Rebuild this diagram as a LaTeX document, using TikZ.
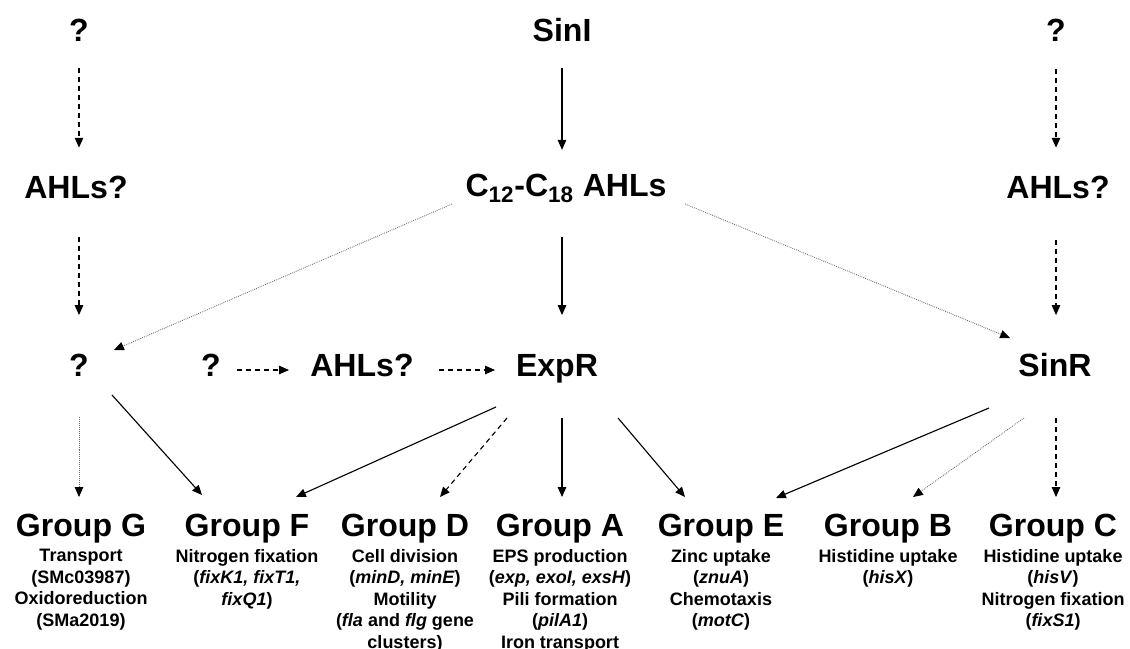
\documentclass[tikz,border=0pt]{standalone}
\usepackage{fontspec}
\setmainfont{Liberation Sans}
\usetikzlibrary{arrows.meta, positioning, calc}

\begin{document}
\begin{tikzpicture}[x=0.025cm, y=-0.025cm,
    lbl/.style={font=\bfseries\fontsize{22.8}{26}\selectfont, inner sep=0pt, text height=16.3pt, text depth=0pt},
    desc/.style={font=\bfseries\fontsize{12.8}{15.4}\selectfont, align=center, inner sep=0pt},
    arr/.style={-{Triangle[length=7pt, width=6pt]}, line width=0.8pt},
    dasharr/.style={arr, dash pattern=on 3.6pt off 2.8pt},
    dotarr/.style={-{Triangle[length=7pt, width=6pt, color=black]}, line width=0.6pt, black!60, dash pattern=on 0.6pt off 0.8pt}]
    \useasboundingbox (0,0) rectangle (1130,649);

    % primera fila
    \node[lbl] (q1) at (79,30) {?};
    \node[lbl] (sinI) at (562,30) {SinI};
    \node[lbl] (q2) at (1056,30) {?};
    % segunda fila
    \node[lbl] (ahl1) at (76,187) {AHLs?};
    \node[lbl] (c1218) at (566,185) {C\textsubscript{12}-C\textsubscript{18} AHLs};
    \node[lbl] (ahl2) at (1058,187) {AHLs?};
    % reguladores
    \node[lbl] (q3) at (79,365) {?};
    \node[lbl] (q4) at (211,365) {?};
    \node[lbl] (ahl3) at (362,365) {AHLs?};
    \node[lbl] (expR) at (557,365) {ExpR};
    \node[lbl] (sinR) at (1055,365) {SinR};

    % grupos de genes
    \foreach \g/\x in {G/81, F/247, D/405, A/560, E/721, B/888, C/1053}
        \node[lbl] (grp\g) at (\x,525) {Group \g};
    \node[desc, below=8.5pt of grpG] (txtG) {Transport\\(SMc03987)\\Oxidoreduction\\(SMa2019)};
    \node[desc, below=8.5pt of grpF] (txtF) {Nitrogen fixation\\(\textit{fixK1, fixT1,}\\\textit{fixQ1})};
    \node[desc, below=8.5pt of grpD] (txtD) {Cell division\\(\textit{minD, minE})\\Motility\\(\textit{fla} and \textit{flg} gene\\clusters)};
    \node[desc, below=8.5pt of grpA] (txtA) {EPS production\\(\textit{exp, exoI, exsH})\\Pili formation\\(\textit{pilA1})\\Iron transport};
    \node[desc, below=8.5pt of grpE] (txtE) {Zinc uptake\\(\textit{znuA})\\Chemotaxis\\(\textit{motC})};
    \node[desc, below=8.5pt of grpB] (txtB) {Histidine uptake\\(\textit{hisX})};
    \node[desc, below=8.5pt of grpC] (txtC) {Histidine uptake\\(\textit{hisV})\\Nitrogen fixation\\(\textit{fixS1})};

    % flechas verticales de arriba
    \draw[dasharr, shorten <=27pt, shorten >=28pt] (q1.center) -- (q1.center |- ahl1.center);
    \draw[arr, shorten <=27pt, shorten >=25pt] (sinI.center) -- (sinI.center |- c1218.center);
    \draw[dasharr, shorten <=28pt, shorten >=28pt] (q2.center) -- (q2.center |- ahl2.center);
    \draw[dasharr, shorten <=35.5pt, shorten >=35.5pt] (ahl1.center -| q3.center) -- (q3.center);
    \draw[arr, shorten <=37pt, shorten >=35.5pt] (sinI.center |- c1218.center) -- (sinI.center |- expR.center);
    \draw[dasharr, shorten <=37.5pt, shorten >=35.5pt] (ahl2.center -| q2.center) -- (q2.center |- sinR.center);

    % lineas punteadas desde los AHLs
    \draw[dotarr] ([shift={(-114,19)}]c1218.center) -- ([shift={(35,-15)}]q3.center);
    \draw[dotarr] ([shift={(119,19)}]c1218.center) -- ([shift={(-45,-27)}]sinR.center);

    % fila del medio
    \draw[dasharr] ([shift={(26,5)}]q4.center) -- ([shift={(-73,5)}]ahl3.center);
    \draw[dasharr] ([shift={(77,5)}]ahl3.center) -- ([shift={(-62,5)}]expR.center);

    % hacia los grupos
    \draw[dotarr] ([shift={(0,52)}]q3.center) -- ([shift={(-2,-28)}]grpG.center);
    \draw[arr] ([shift={(33,30)}]q3.center) -- ([shift={(-45,-30)}]grpF.center);
    \draw[arr] ([shift={(-61,42)}]expR.center) -- ([shift={(49,-28)}]grpF.center);
    \draw[dasharr] ([shift={(-50,53)}]expR.center) -- ([shift={(35,-28)}]grpD.center);
    \draw[arr] ([shift={(5,53)}]expR.center) -- ([shift={(2,-28)}]grpA.center);
    \draw[arr] ([shift={(61,53)}]expR.center) -- ([shift={(-36,-28)}]grpE.center);
    \draw[arr] ([shift={(-66,43)}]sinR.center) -- ([shift={(55,-27)}]grpE.center);
    \draw[dotarr] ([shift={(-31,53)}]sinR.center) -- ([shift={(25,-28)}]grpB.center);
    \draw[dasharr] ([shift={(1,53)}]sinR.center) -- ([shift={(3,-28)}]grpC.center);
\end{tikzpicture}
\end{document}
